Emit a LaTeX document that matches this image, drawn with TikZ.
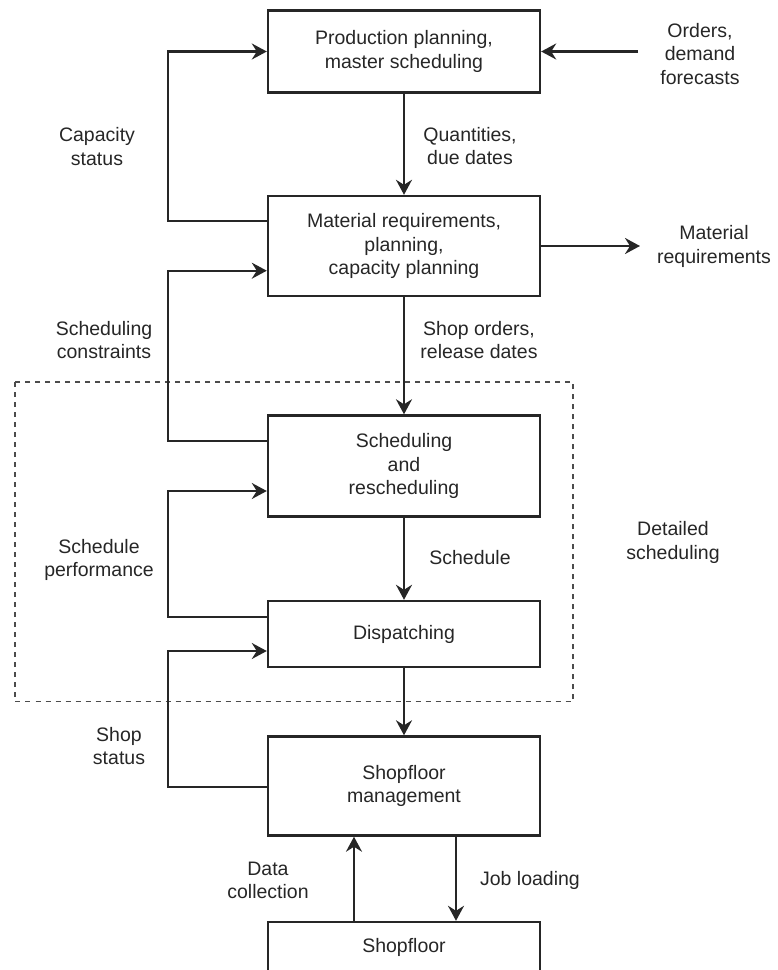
\documentclass[tikz,border=0pt]{standalone}
\usepackage{fontspec}
\setmainfont{Liberation Sans}
\usetikzlibrary{arrows.meta}
\begin{document}
\begin{tikzpicture}[x=1pt,y=-1pt,
  box/.style={draw=black!85, line width=2.4pt, minimum width=272pt, align=center,
    inner sep=0pt, font=\fontsize{19.5}{23.5}\selectfont, text=black!85},
  lbl/.style={align=center, inner sep=0pt, font=\fontsize{19.5}{23.5}\selectfont, text=black!85},
  link/.style={draw=black!85, line width=2.3pt, -{Stealth[length=15pt,width=16pt,inset=5pt]}},
  frame/.style={draw=black!70, line width=1.5pt, dash pattern=on 5pt off 5pt}]

\useasboundingbox (0,0) rectangle (778,970);

% detailed scheduling frame
\draw[frame] (15,382) rectangle (573,701.5);

% main chain of blocks
\node[box, minimum height=82pt]  (plan)  at (404,51.5) {Production planning,\\master scheduling};
\node[box, minimum height=100pt] (mrp)   at (404,246)  {Material requirements,\\planning,\\capacity planning};
\node[box, minimum height=101pt] (sched) at (404,466)  {Scheduling\\and\\rescheduling};
\node[box, minimum height=66pt]  (disp)  at (404,634)  {Dispatching};
\node[box, minimum height=99pt]  (sfm)   at (404,786)  {Shopfloor\\management};
\node[box, minimum height=50pt]  (sf)    at (404,947)  {Shopfloor};

% downward flow
\draw[link] (plan) -- (mrp);
\draw[link] (mrp) -- (sched);
\draw[link] (sched) -- (disp);
\draw[link] (disp) -- (sfm);
\draw[link] (sf.north -| 354,0) -- (sfm.south -| 354,0);
\draw[link] (sfm.south -| 456,0) -- (sf.north -| 456,0);

% external inputs and outputs
\coordinate (ordin) at (638,51.5);
\coordinate (matout) at (640,246);
\draw[link] (ordin) -- (plan.east);
\draw[link] (mrp.east) -- (matout);

% feedback loops on the left
\draw[link] (mrp.west |- 0,221) -- (168,221) -- (168,51.5) -- (plan.west);
\draw[link] (sched.west |- 0,441) -- (168,441) -- (168,270.7) -- (mrp.west |- 0,270.7);
\draw[link] (disp.west |- 0,616.7) -- (168,616.7) -- (168,491) -- (sched.west |- 0,491);
\draw[link] (sfm.west |- 0,786.7) -- (168,786.7) -- (168,651) -- (disp.west |- 0,651);

% labels
\node[lbl] (orders)   at (700,54)    {Orders,\\demand\\forecasts};
\node[lbl] (matreq)   at (714,246.5) {Material\\requirements};
\node[lbl] (qty)      at (470,146)   {Quantities,\\due dates};
\node[lbl] (cap)      at (97,146.5)  {Capacity\\status};
\node[lbl] (constr)   at (104,340)   {Scheduling\\constraints};
\node[lbl] (rel)      at (479,340)   {Shop orders,\\release dates};
\node[lbl] (perf)     at (99,560)    {Schedule\\performance};
\node[lbl] (schedlbl) at (470,558)   {Schedule};
\node[lbl] (detail)   at (673,542.5) {Detailed\\scheduling};
\node[lbl] (shopst)   at (119,746)   {Shop\\status};
\node[lbl] (datacol)  at (268,880.5) {Data\\collection};
\node[lbl] (job)      at (530,880)   {Job loading};
\end{tikzpicture}
\end{document}
